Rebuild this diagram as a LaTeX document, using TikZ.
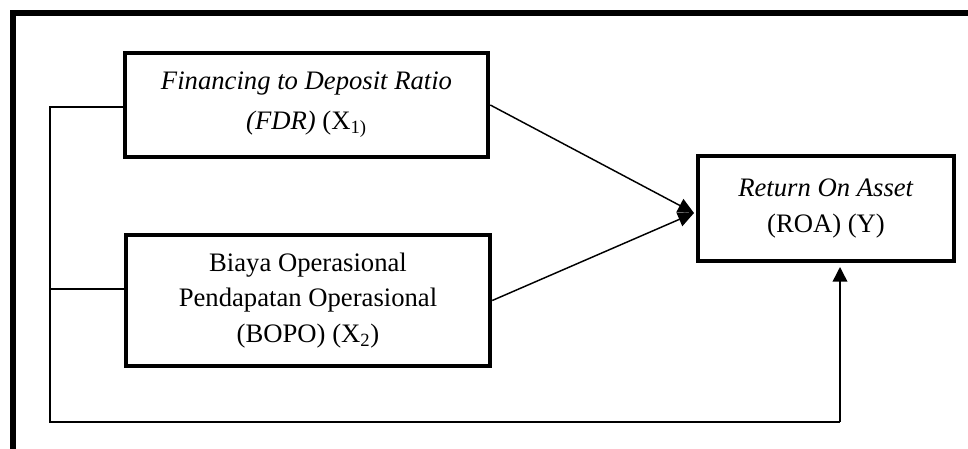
\documentclass[tikz,border=0pt]{standalone}
\usepackage{fontspec}
\setmainfont{Liberation Serif}
\usetikzlibrary{arrows.meta}
\begin{document}
\begin{tikzpicture}[x=0.75pt,y=-0.75pt,
  varbox/.style={draw,line width=3.4pt,rectangle,align=center,inner sep=0pt},
  conn/.style={line width=1.1pt},
  tip/.style={-{Triangle[length=12pt,width=11pt]}}]
\useasboundingbox (0,0) rectangle (968,449);
% frame
\draw[line width=3.8pt] (13,449) -- (13,13) -- (968,13);
% nodes
\node[varbox,minimum width=363*0.75pt,minimum height=104*0.75pt,
  font=\fontsize{20}{30}\selectfont] (fdr) at (306.5,105)
  {\textit{Financing to Deposit Ratio}\\\textit{(FDR)} (X\textsubscript{1)}};
\node[varbox,minimum width=364*0.75pt,minimum height=131*0.75pt,
  font=\fontsize{20}{26.5}\selectfont] (bopo) at (308,300.5)
  {Biaya Operasional\\Pendapatan Operasional\\(BOPO) (X\textsubscript{2})};
\node[varbox,minimum width=256*0.75pt,minimum height=105*0.75pt,
  font=\fontsize{20}{27.5}\selectfont] (roa) at (826,208.5)
  {\textit{Return On Asset}\\(ROA) (Y)};
% coordinates
\coordinate (m) at (694,213);
\coordinate (a) at (50,107);
\coordinate (b) at (50,289);
\coordinate (c) at (50,422);
\coordinate (d) at (840,422);
\coordinate (e) at (840,267);
% connectors
\draw[conn,tip] (fdr.east) -- (m);
\draw[conn,tip] (bopo.east) -- (m);
\draw[conn] (fdr.west |- a) -- (a) -- (c) -- (d);
\draw[conn] (bopo.west |- b) -- (b);
\draw[conn,-{Triangle[length=11pt,width=11pt]}] (d) -- (e);
\end{tikzpicture}
\end{document}
